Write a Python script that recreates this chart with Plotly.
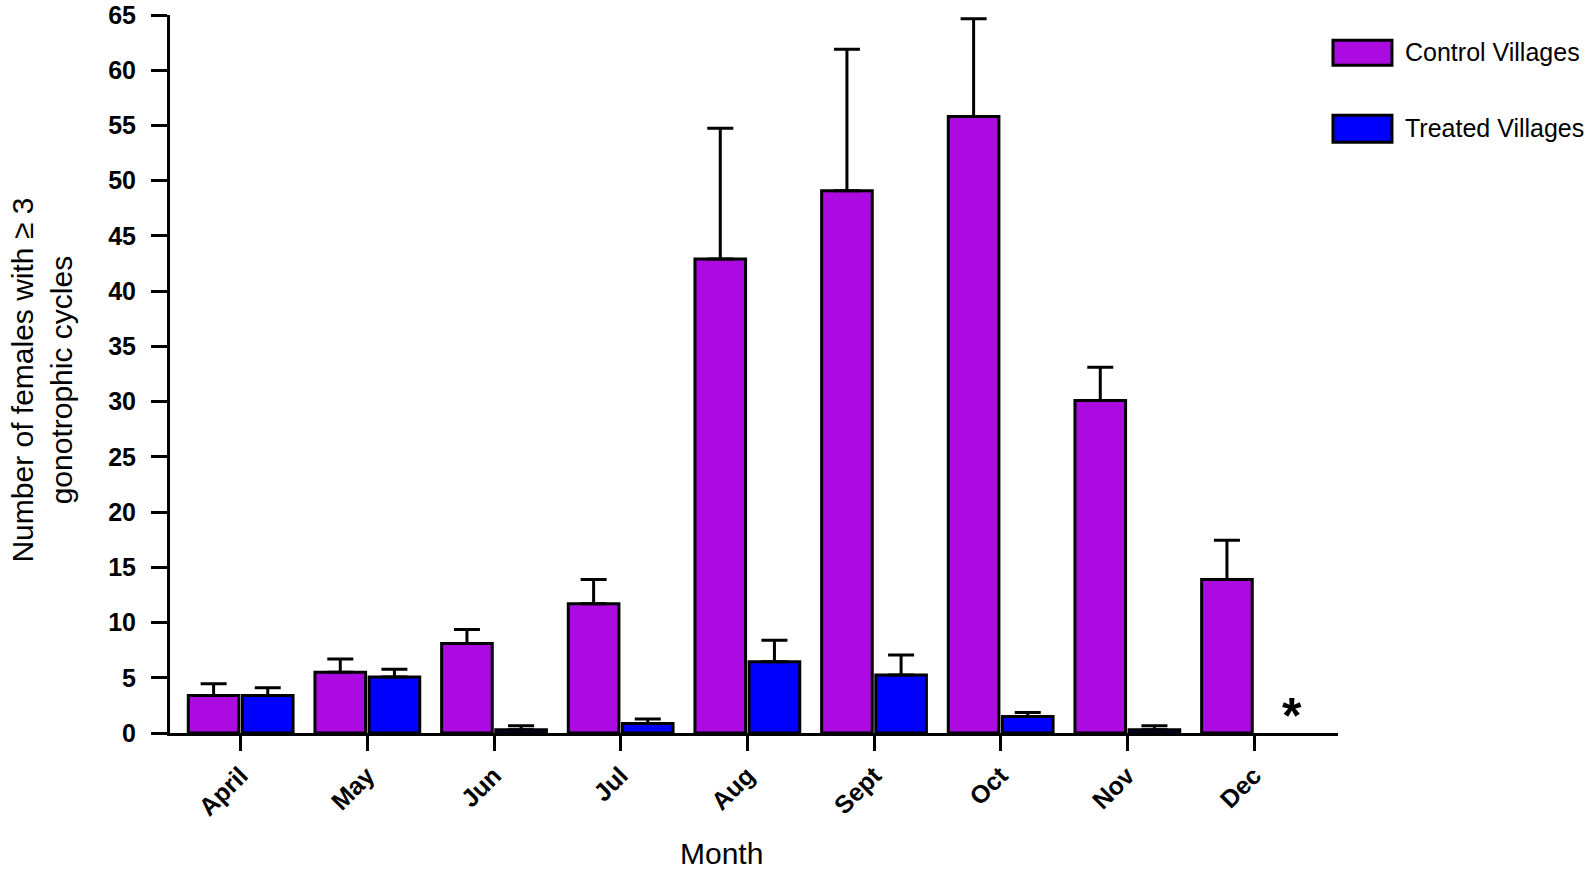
import plotly.graph_objects as go

months = ["April", "May", "Jun", "Jul", "Aug", "Sept", "Oct", "Nov", "Dec"]
control = [3.4, 5.5, 8.1, 11.7, 42.9, 49.1, 55.8, 30.1, 13.9]
control_err = [1.05, 1.2, 1.28, 2.2, 11.85, 12.8, 8.85, 3.0, 3.55]
treated = [3.4, 5.07, 0.3, 0.85, 6.45, 5.25, 1.5, 0.3, None]
treated_err = [0.7, 0.7, 0.35, 0.42, 1.95, 1.8, 0.35, 0.35, None]
series_names = ["Control Villages", "Treated Villages"]

PURPLE = "#AB0BE0"
BLUE = "#0000FF"
FONT = "Arial, Liberation Sans, sans-serif"

fig = go.Figure()
fig.add_trace(go.Bar(
    x=months, y=control, name=series_names[0],
    marker=dict(color=PURPLE, line=dict(color="black", width=3)),
    error_y=dict(type="data", array=control_err, arrayminus=[0] * len(months),
                 symmetric=False, color="black", thickness=3, width=13),
))
fig.add_trace(go.Bar(
    x=months, y=treated, name=series_names[1],
    marker=dict(color=BLUE, line=dict(color="black", width=3)),
    error_y=dict(type="data", array=treated_err, arrayminus=[0] * len(months),
                 symmetric=False, color="black", thickness=3, width=13),
))

fig.update_layout(
    width=1594, height=874,
    margin=dict(l=170, r=256, t=15, b=141, autoexpand=False),
    plot_bgcolor="white", paper_bgcolor="white",
    barmode="group", bargap=0.145, bargroupgap=0.065,
    showlegend=False,
    font=dict(family=FONT, color="black"),
)
fig.update_xaxes(
    type="category", range=[-0.558, 8.663], automargin=False,
    showline=True, linecolor="black", linewidth=3,
    ticks="outside", ticklen=15, tickwidth=3, tickcolor="black",
    tickangle=-45, tickfont=dict(size=25, family=FONT, color="black", weight="bold"),
    ticklabeloverflow="allow",
    showgrid=False, zeroline=False,
)
fig.update_yaxes(
    range=[0, 65], tickvals=list(range(0, 66, 5)), automargin=False,
    showline=True, linecolor="black", linewidth=3,
    ticks="outside", ticklen=16, tickwidth=3, tickcolor="black",
    ticklabelstandoff=10, ticklabeloverflow="allow",
    tickfont=dict(size=25, family=FONT, color="black", weight="bold"),
    showgrid=False, zeroline=False,
)

# axis titles
fig.add_annotation(text="Month", xref="paper", yref="paper", x=0.4726, y=-0.1675,
                   showarrow=False, font=dict(size=30, family=FONT, color="black"),
                   xanchor="center", yanchor="middle")
fig.add_annotation(text="Number of females with \u2265 3<br>gonotrophic cycles",
                   xref="paper", yref="paper", x=-0.1095, y=0.491, textangle=-90,
                   showarrow=False, font=dict(size=30, family=FONT, color="black"),
                   xanchor="center", yanchor="middle")

# asterisk for Dec treated (no data)
fig.add_annotation(text="<b>*</b>", xref="x", yref="y", x="Dec", y=1.5, xshift=38,
                   showarrow=False, font=dict(size=50, family=FONT, color="black"),
                   xanchor="center", yanchor="middle")

# legend drawn manually
legend_items = [(series_names[0], PURPLE, 0.9648, 0.9299, 0.948),
                (series_names[1], BLUE, 0.8603, 0.8227, 0.842)]
for name, col, y1, y0, yt in legend_items:
    fig.add_shape(type="rect", xref="paper", yref="paper", x0=0.9957, x1=1.0462,
                  y0=y0, y1=y1, fillcolor=col, line=dict(color="black", width=3))
    fig.add_annotation(text=name, xref="paper", yref="paper", x=1.0557, y=yt,
                       xanchor="left", yanchor="middle", showarrow=False,
                       font=dict(size=25, family=FONT, color="black"))

fig.write_html("out.html", config={"displayModeBar": False},
               post_script="document.body.style.margin='0';")
